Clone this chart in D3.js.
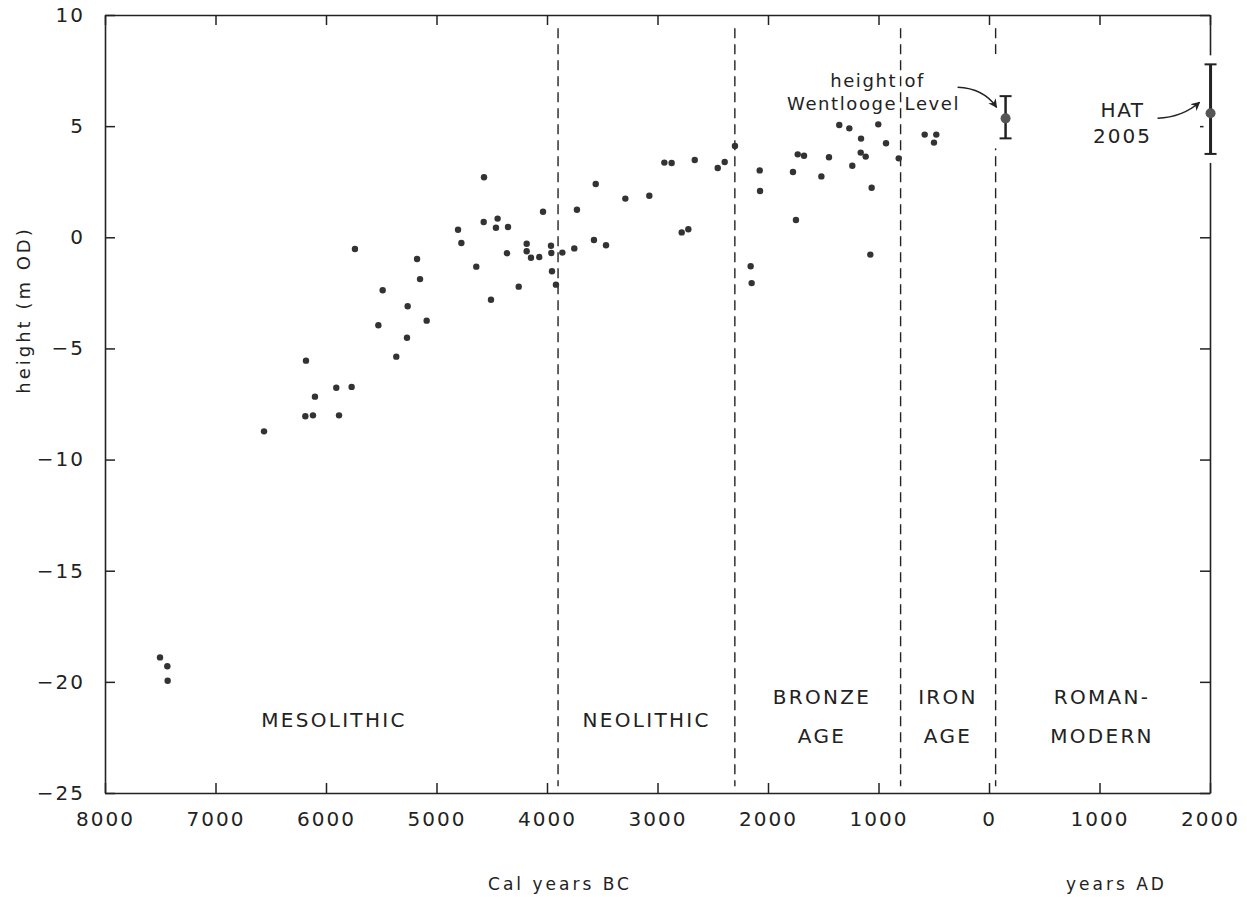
<!DOCTYPE html>
<html><head><meta charset="utf-8">
<script src="https://cdn.jsdelivr.net/npm/d3@7"></script>
<style>
body{margin:0;background:#fff}
text{font-family:"DejaVu Sans",sans-serif;fill:#222}
</style>
</head><body>
<svg id="c" width="1247" height="897"></svg>
<script>
// ---- data (years: negative = BC, positive = AD; heights in m OD) ----
const years = [-7502,-7436,-7433,-6561,-6181,-6100,-6187,-6118,-5907,-5768,-5882,-5526,-5261,-5089,-5267,-5364,
  -5738,-5176,-5149,-5487,-4570,-4805,-4775,-4573,-4447,-4462,-4353,-4640,-4362,-4507,-4256,-4184,-4184,-4145,
  -4070,-4036,-3964,-3961,-3955,-3919,-3861,-3753,-3729,-3575,-3559,-3466,-3291,-3074,-2938,-2872,-2781,-2721,
  -2663,-2455,-2392,-2299,-2157,-2148,-2075,-2072,-1774,-1747,-1731,-1674,-1517,-1448,-1355,-1264,-1237,-1158,
  -1161,-1116,-1062,-1074,-1002,-932,-817,-582,-477,-498];
const heights = [-18.9,-19.3,-19.95,-8.73,-5.55,-7.17,-8.05,-8.01,-6.77,-6.73,-8.01,-3.96,-3.10,-3.75,-4.52,-5.37,
  -0.53,-0.98,-1.88,-2.38,2.70,0.34,-0.26,0.69,0.84,0.43,0.46,-1.32,-0.72,-2.81,-2.22,-0.29,-0.63,-0.92,
  -0.89,1.15,-0.38,-0.71,-1.53,-2.13,-0.69,-0.50,1.24,-0.12,2.40,-0.36,1.74,1.87,3.36,3.34,0.22,0.36,
  3.48,3.12,3.39,4.11,-1.30,-2.06,3.01,2.08,2.94,0.78,3.73,3.67,2.74,3.60,5.05,4.90,3.22,4.44,
  3.81,3.63,2.23,-0.78,5.08,4.23,3.55,4.62,4.62,4.26];

const periodBounds = [-3900, -2300, -800, 60];
const periodLabels = [["MESOLITHIC"],["NEOLITHIC"],["BRONZE","AGE"],["IRON","AGE"],["ROMAN-","MODERN"]];
const periodLabelYears = [-5928, -3098, -1511, -371, 1023];

const xTicks = [-8000,-7000,-6000,-5000,-4000,-3000,-2000,-1000,0,1000,2000];
const yTicks = [-25,-20,-15,-10,-5,0,5,10];

const wentlooge = {year:150, h:5.35, low:4.45, high:6.35};
const hat = {year:2005, h:5.58, low:3.75, high:7.78};

// ---- chart ----
const svg = d3.select("#c");
const x = d3.scaleLinear().domain([-8000, 2000]).range([105, 1210]);
const y = d3.scaleLinear().domain([-25, 10]).range([793, 15]);
const ink = "#222";
const fmtY = d => d < 0 ? "\u2212" + Math.abs(d) : String(d);

// period boundaries (dashed)
svg.append("g").selectAll("line").data(periodBounds).join("line")
  .attr("x1", d => x(d)).attr("x2", d => x(d))
  .attr("y1", y(9.4)).attr("y2", y(-24.7))
  .attr("stroke", ink).attr("stroke-width", 1.4).attr("stroke-dasharray", "10,6");

// axes
function styleAxis(g){
  g.selectAll("path.domain").attr("stroke", ink).attr("stroke-width", 1.6);
  g.selectAll(".tick line").attr("stroke", ink).attr("stroke-width", 1.5);
  g.selectAll(".tick text").style("font-family", "DejaVu Sans").style("font-size", "20px")
    .style("letter-spacing", "2px").attr("fill", ink);
}
svg.append("g").attr("transform", `translate(0,${y(-25)})`)
  .call(d3.axisBottom(x).tickValues(xTicks).tickSizeInner(-10).tickSizeOuter(0).tickPadding(19)
    .tickFormat(d => String(Math.abs(d))))
  .call(styleAxis);
svg.append("g").attr("transform", `translate(0,${y(10)})`)
  .call(d3.axisTop(x).tickValues(xTicks).tickSizeInner(-10).tickSizeOuter(0).tickFormat(""))
  .call(styleAxis);
svg.append("g").attr("transform", `translate(${x(-8000)},0)`)
  .call(d3.axisLeft(y).tickValues(yTicks).tickSizeInner(-10).tickSizeOuter(0).tickPadding(20).tickFormat(fmtY))
  .call(styleAxis);
svg.append("g").attr("transform", `translate(${x(2000)},0)`)
  .call(d3.axisRight(y).tickValues(yTicks).tickSizeInner(-10).tickSizeOuter(0).tickFormat(""))
  .call(styleAxis);

// data points
svg.append("g").selectAll("circle").data(years.map((yr, i) => [yr, heights[i]])).join("circle")
  .attr("cx", d => x(d[0])).attr("cy", d => y(d[1])).attr("r", 3.2).attr("fill", "#333");

// period labels
const pl = svg.append("g");
periodLabels.forEach((lines, i) => {
  const base = lines.length === 1 ? [-22.03] : [-21.0, -22.75];
  lines.forEach((t, j) => {
    pl.append("text").attr("x", x(periodLabelYears[i])).attr("y", y(base[j]))
      .attr("text-anchor", "middle").style("font-size", "20px").style("letter-spacing", "2.3px").text(t);
  });
});

// arrow marker
svg.append("defs").append("marker").attr("id", "ah").attr("viewBox", "0 0 10 10")
  .attr("refX", 9).attr("refY", 5).attr("markerWidth", 9).attr("markerHeight", 9)
  .attr("markerUnits", "userSpaceOnUse").attr("orient", "auto")
  .append("path").attr("d", "M0,0 L10,5 L0,10 L3,5 Z").attr("fill", ink);

// error bars
function errBar(o, rr, sw, gapPad){
  const cx = x(o.year);
  if (gapPad) {
    svg.append("rect").attr("x", cx - 7).attr("y", y(o.high) - gapPad)
      .attr("width", 14).attr("height", y(o.low) - y(o.high) + 2 * gapPad).attr("fill", "#fff");
  }
  svg.append("line").attr("x1", cx).attr("x2", cx).attr("y1", y(o.high)).attr("y2", y(o.low))
    .attr("stroke", ink).attr("stroke-width", sw);
  [o.high, o.low].forEach(v => svg.append("line").attr("x1", cx - 6).attr("x2", cx + 6)
    .attr("y1", y(v)).attr("y2", y(v)).attr("stroke", ink).attr("stroke-width", 2));
  svg.append("circle").attr("cx", cx).attr("cy", y(o.h)).attr("r", rr).attr("fill", "#555");
}
// gap in the last dashed line around the Wentlooge annotation
svg.append("rect").attr("x", x(periodBounds[3]) - 4).attr("y", y(wentlooge.high) - 42)
  .attr("width", 8).attr("height", y(wentlooge.low) - y(wentlooge.high) + 52).attr("fill", "#fff");
errBar(wentlooge, 5, 2.5, 0);
errBar(hat, 5, 3, 9);

// annotations
const wx = x(wentlooge.year), wy = y(wentlooge.h);
svg.append("text").attr("x", wx - 128).attr("y", wy - 31).attr("text-anchor", "middle")
  .style("font-size", "18px").style("letter-spacing", "1.6px").text("height of");
svg.append("text").attr("x", wx - 132).attr("y", wy - 8).attr("text-anchor", "middle")
  .style("font-size", "18px").style("letter-spacing", "1.6px").text("Wentlooge Level");
svg.append("path")
  .attr("d", `M${wx-48},${wy-31} Q${wx-22},${wy-30} ${wx-9},${wy-11}`)
  .attr("fill", "none").attr("stroke", ink).attr("stroke-width", 1.5).attr("marker-end", "url(#ah)");

const hx = x(hat.year), hy = y(hat.h);
svg.append("text").attr("x", hx - 88).attr("y", hy + 4).attr("text-anchor", "middle")
  .style("font-size", "20px").style("letter-spacing", "1.5px").text("HAT");
svg.append("text").attr("x", hx - 88).attr("y", hy + 30).attr("text-anchor", "middle")
  .style("font-size", "20px").style("letter-spacing", "2px").text("2005");
svg.append("path")
  .attr("d", `M${hx-53},${hy+5} Q${hx-28},${hy+4} ${hx-11},${hy-11}`)
  .attr("fill", "none").attr("stroke", ink).attr("stroke-width", 1.5).attr("marker-end", "url(#ah)");

// axis titles
svg.append("text").attr("x", 560).attr("y", 890).attr("text-anchor", "middle")
  .style("font-size", "17px").style("letter-spacing", "3px").text("Cal years BC");
svg.append("text").attr("x", x(1000) + 17).attr("y", 890).attr("text-anchor", "middle")
  .style("font-size", "17px").style("letter-spacing", "3px").text("years AD");
svg.append("text").attr("transform", `translate(23,${310}) rotate(-90)`).attr("text-anchor", "middle")
  .attr("dominant-baseline", "central")
  .style("font-size", "18px").style("letter-spacing", "3px").text("height (m OD)");
</script>
</body></html>
